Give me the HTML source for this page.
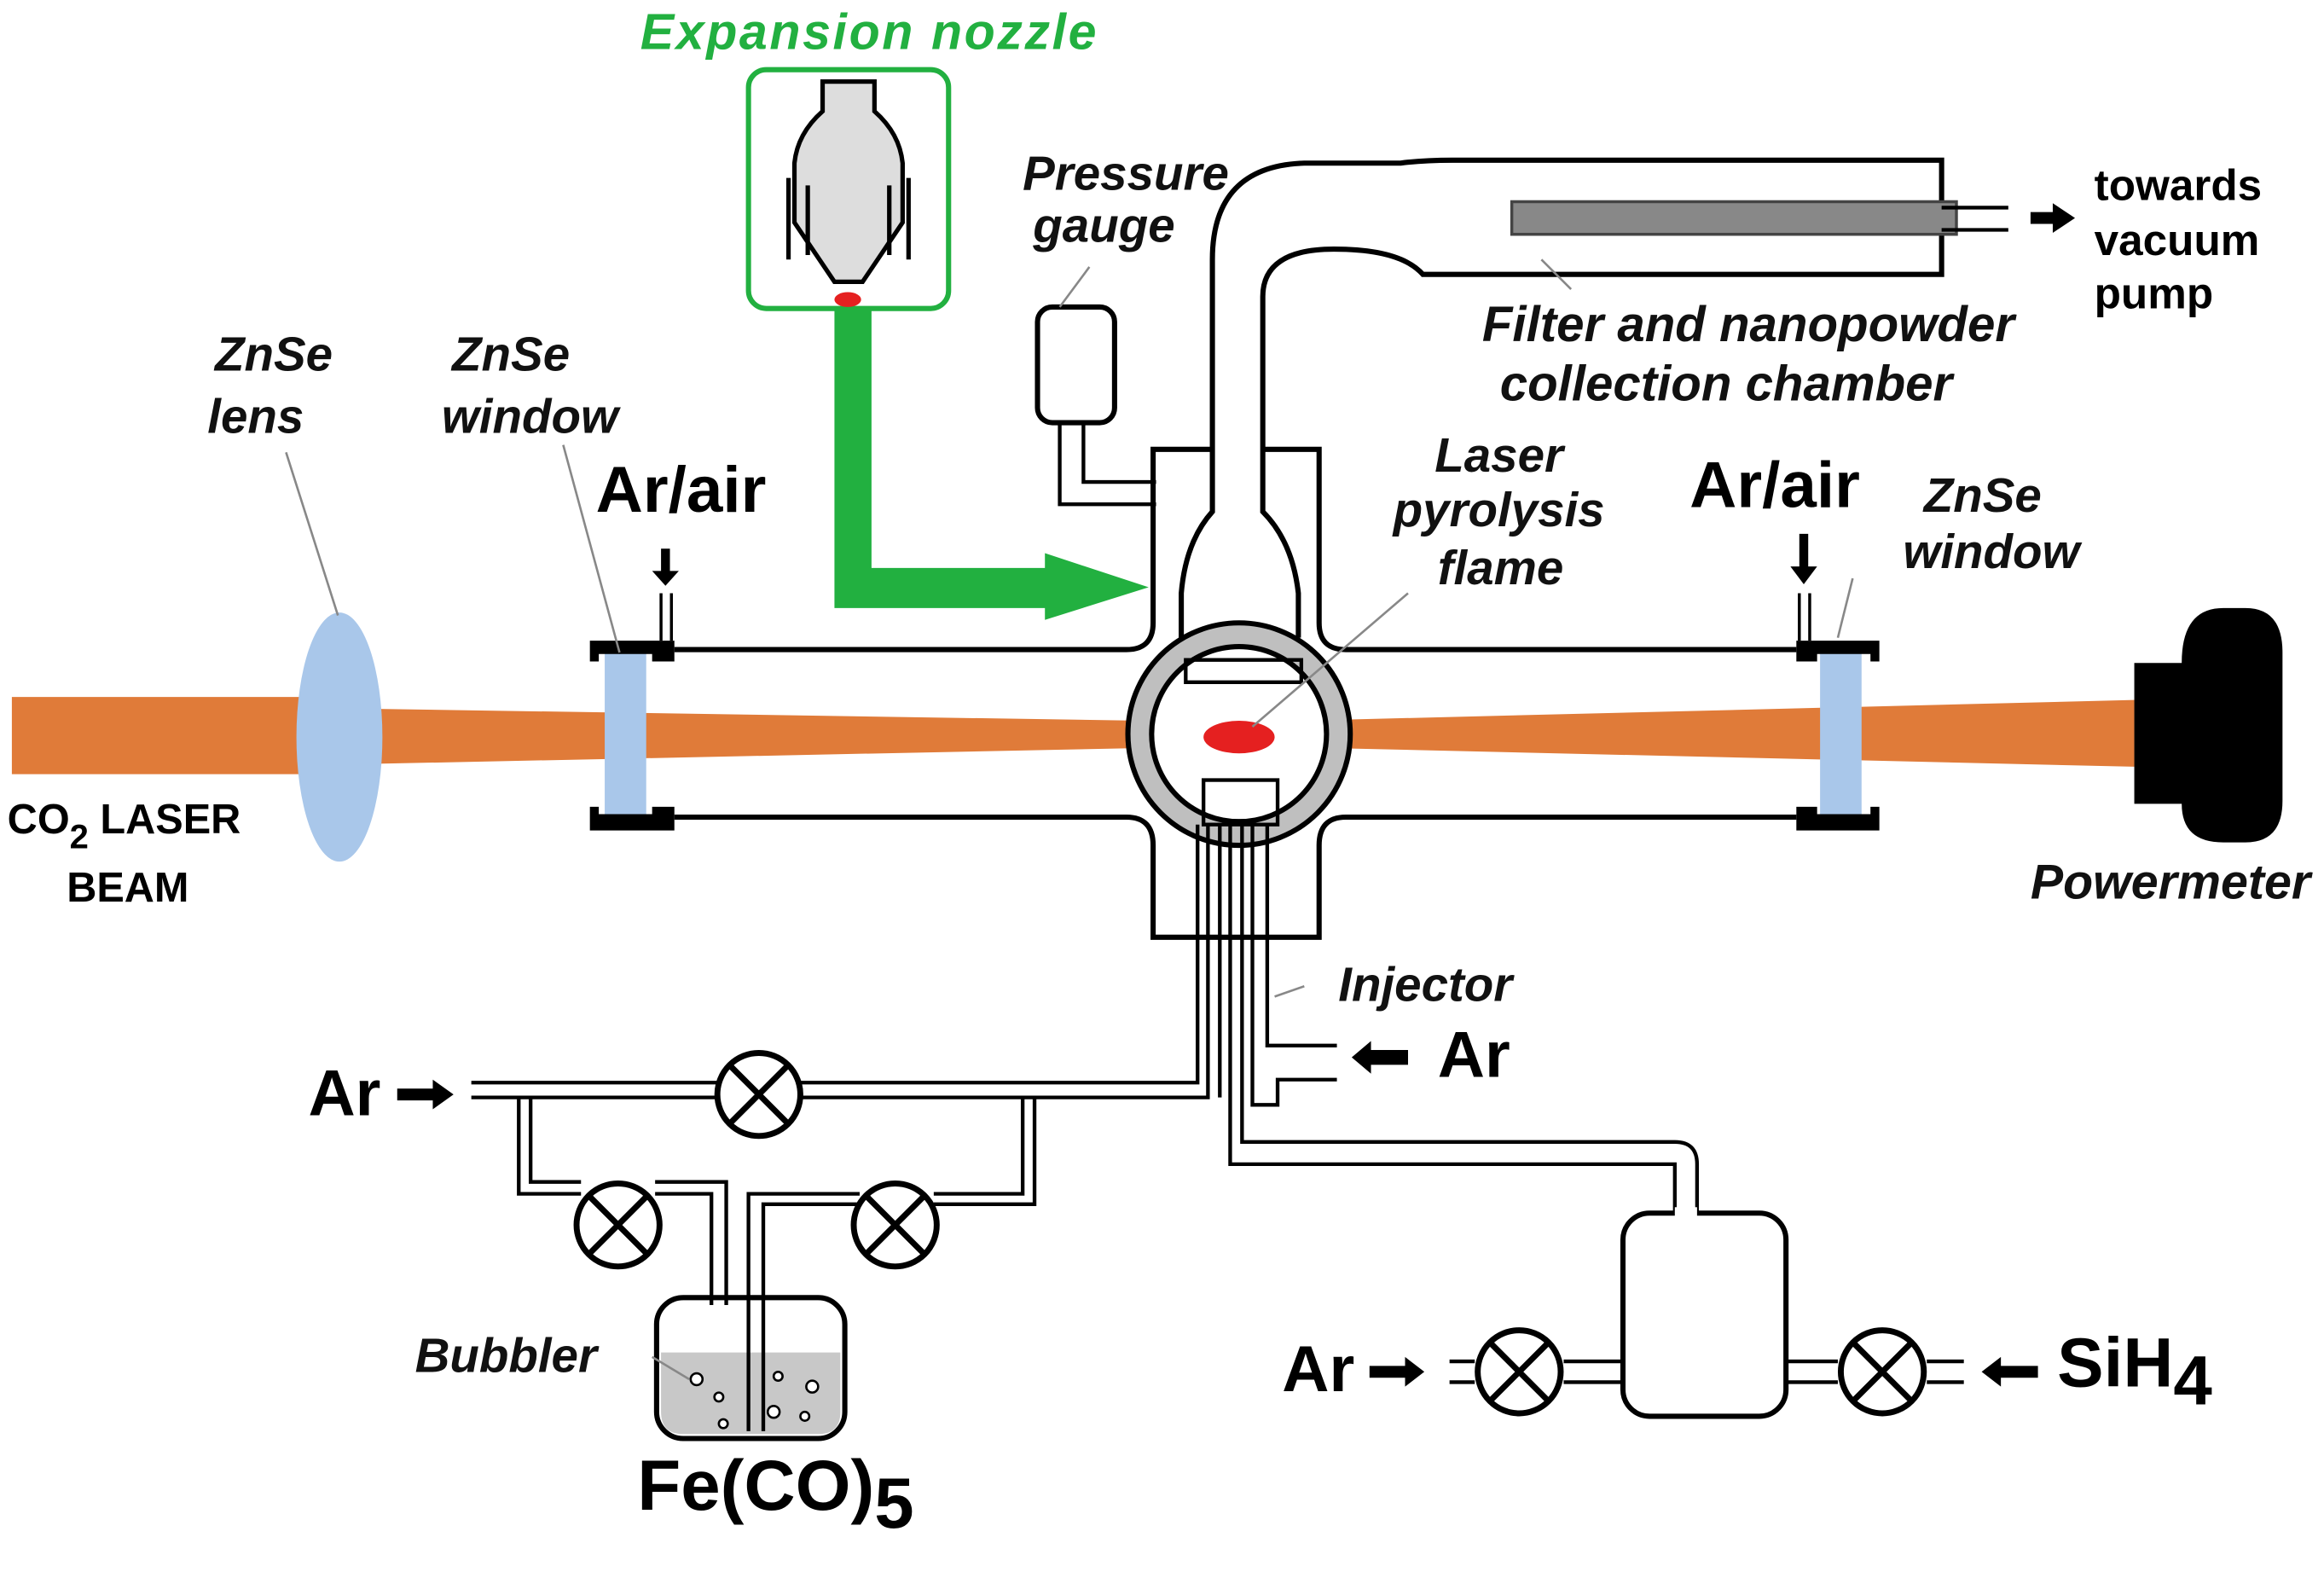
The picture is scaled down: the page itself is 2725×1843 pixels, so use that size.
<!DOCTYPE html>
<html><head><meta charset="utf-8"><style>
html,body{margin:0;padding:0;background:#fff}
svg{display:block}
text{font-family:"Liberation Sans",sans-serif;font-weight:bold}
.it{font-style:italic;font-size:32.5px;fill:#111}
.b{font-size:44px;fill:#000}
</style></head><body>
<svg width="2725" height="1843" viewBox="0 0 1568 1060" preserveAspectRatio="none" xmlns="http://www.w3.org/2000/svg">
<g fill="none" stroke="#000" stroke-width="3.5">
<polygon points="8,470 215,470 255,478 836,487 1440,472 1440,517 836,503 255,515 215,522 8,522" fill="#E07B39" stroke="none"/>
<ellipse cx="229" cy="497" rx="29" ry="84" fill="#a9c7ea" stroke="none"/>
<path d="M455,438 H760 Q778,438 778,420 V303 H890 V420 Q890,438 908,438 H1212"/>
<path d="M455,551 H760 Q778,551 778,570 V632 H890 V570 Q890,551 908,551 H1212"/>
<rect x="408" y="440" width="28" height="114" fill="#a9c7ea" stroke="none"/>
<rect x="1228" y="440" width="28" height="114" fill="#a9c7ea" stroke="none"/>
<path d="M398,432 H455 V446 H440 V441 H404 V446 H398Z" fill="#000" stroke="none"/>
<path d="M398,544 H404 V549 H440 V544 H455 V560 H398Z" fill="#000" stroke="none"/>
<path d="M1212,432 H1268 V446 H1262 V441 H1226 V446 H1212Z" fill="#000" stroke="none"/>
<path d="M1212,544 H1226 V549 H1262 V544 H1268 V560 H1212Z" fill="#000" stroke="none"/>
<path d="M446,400 V432 M453,400 V432 M1214,400 V432 M1221,400 V432" stroke-width="2"/>
<path d="M1440,447 H1472 Q1472,410 1500,410 H1515 Q1540,410 1540,440 V540 Q1540,568 1515,568 H1500 Q1472,568 1472,542 H1440Z" fill="#000" stroke="none"/>
<path d="M797,430 V400 Q800,365 818,345 V175 Q818,112 880,110 H945 Q960,108 980,108 H1310 V185 H960 Q945,168 900,168 Q852,168 852,200 V345 Q872,365 876,400 V430" fill="#fff"/>
<rect x="1020" y="136" width="300" height="22" fill="#888" stroke="#444" stroke-width="2"/>
<path d="M1310,140 H1355 M1310,155 H1355" stroke-width="2.5"/>
<circle cx="836" cy="495" r="72" fill="#fff" stroke="none"/>
<circle cx="836" cy="495" r="67" stroke="#bfbfbf" stroke-width="16"/>
<circle cx="836" cy="495" r="75"/>
<circle cx="836" cy="495" r="59"/>
<path d="M800,445 H878 V460 H800Z" stroke-width="2.5"/>
<ellipse cx="836" cy="497" rx="24" ry="11" fill="#e52020" stroke="none"/>
<rect x="812" y="526" width="50" height="30" stroke-width="2.5"/>
<rect x="700" y="207" width="52" height="78" rx="10"/>
<path d="M715,285 V340 H780 M731,285 V325 H780" stroke-width="2.5"/>
<path d="M808,556 V730 H318 M815,556 V740 H318 M823,556 V740 M830,556 V785 H1130 V818 M838,556 V770 H1130 Q1145,770 1145,785 V818 M845,556 V745 H862 V728 H902 M855,556 V705 H902" stroke-width="2.5"/>
<path d="M350,740 V805 H392 M358,740 V797 H392 M442,805 H480 V880 M442,797 H490 V880 M505,880 V805 H580 M515,880 V812 H580 M630,805 H690 V740 M630,812 H698 V740" stroke-width="2.5"/>
<rect x="443" y="875" width="127" height="95" rx="18" fill="#fff"/>
<path d="M446,912 H567 V952 Q567,967 552,967 H461 Q446,967 446,952Z" fill="#c8c8c8" stroke="none"/>
<path d="M480,875 V880 M490,875 V880 M505,875 V965 M515,875 V965" stroke-width="2.5"/>
<g stroke-width="1.5" fill="#fff"><circle cx="470" cy="930" r="4"/><circle cx="485" cy="942" r="3"/><circle cx="525" cy="928" r="3"/><circle cx="548" cy="935" r="4"/><circle cx="522" cy="952" r="4"/><circle cx="488" cy="960" r="3"/><circle cx="543" cy="955" r="3"/></g>
<rect x="1095" y="818" width="110" height="137" rx="18" fill="#fff"/>
<rect x="1130" y="814" width="15" height="8" fill="#fff" stroke="none"/>
<path d="M978,918 H995 M978,932 H995 M1055,918 H1095 M1055,932 H1095 M1205,918 H1240 M1205,932 H1240 M1300,918 H1325 M1300,932 H1325" stroke-width="2.5"/>
<g fill="#fff" stroke-width="4">
<circle cx="512" cy="738" r="28"/><circle cx="417" cy="826" r="28"/><circle cx="604" cy="826" r="28"/><circle cx="1025" cy="925" r="28"/><circle cx="1270" cy="925" r="28"/>
</g>
<path d="M492,718 L532,758 M532,718 L492,758 M397,806 L437,846 M437,806 L397,846 M584,806 L624,846 M624,806 L584,846 M1005,905 L1045,945 M1045,905 L1005,945 M1250,905 L1290,945 M1290,905 L1250,945" stroke-width="4"/>
<path d="M193,305 L228,415 M380,300 L418,440 M1250,390 L1240,430 M735,180 L715,207 M1040,175 L1060,195 M950,400 L845,490 M880,665 L860,672 M440,915 L465,930" stroke="#888" stroke-width="1.5"/>
</g>
<rect x="505" y="47" width="135" height="161" rx="12" fill="#fff" stroke="#22b040" stroke-width="3.5"/>
<path d="M555,55 V75 Q538,90 536,110 V150 L563,190 H582 L609,150 V110 Q607,90 590,75 V55Z" fill="#ddd" stroke="#000" stroke-width="3"/>
<path d="M532,120 V175 M545,125 V172 M600,125 V172 M613,120 V175" stroke="#000" stroke-width="3"/>
<ellipse cx="572" cy="202" rx="9" ry="5" fill="#e52020"/>
<path d="M563,208 H588 V383 H705 V373 L775,396 L705,418 V410 H563Z" fill="#22b040"/>
<g fill="#000">
<path d="M446,370 V385 H440 L449,395 L458,385 H452 V370Z"/>
<path d="M1214,360 V382 H1208 L1217,394 L1226,382 H1220 V360Z"/>
<path d="M1370,143 H1385 V137 L1400,147 L1385,157 V151 H1370Z"/>
<path d="M268,734 H292 V728 L306,738 L292,748 V742 H268Z"/>
<path d="M925,708 H950 V718 H925 V724 L912,713 L925,702Z"/>
<path d="M924,921 H948 V915 L961,925 L948,935 V929 H924Z"/>
<path d="M1350,921 H1375 V929 H1350 V935 L1337,925 L1350,915Z"/>
</g>
<text x="432" y="33" class="it" style="fill:#22b040;font-size:34px;letter-spacing:1.5px">Expansion nozzle</text>
<text x="690" y="128" class="it">Pressure</text>
<text x="697" y="163" class="it">gauge</text>
<text x="145" y="250" class="it">ZnSe</text>
<text x="140" y="292" class="it">lens</text>
<text x="305" y="250" class="it">ZnSe</text>
<text x="298" y="292" class="it">window</text>
<text x="402" y="345" class="b">Ar/air</text>
<text x="1140" y="342" class="b">Ar/air</text>
<text x="1298" y="345" class="it">ZnSe</text>
<text x="1284" y="383" class="it">window</text>
<text x="968" y="318" class="it">Laser</text>
<text x="940" y="355" class="it">pyrolysis</text>
<text x="970" y="394" class="it">flame</text>
<text x="1000" y="230" class="it" style="font-size:33.5px">Filter and nanopowder</text>
<text x="1012" y="270" class="it" style="font-size:33.5px">collection chamber</text>
<text x="1413" y="135" style="font-size:29.5px">towards</text>
<text x="1413" y="172" style="font-size:29.5px">vacuum</text>
<text x="1413" y="208" style="font-size:29.5px">pump</text>
<text x="5" y="562" style="font-size:28px">CO<tspan dy="10" style="font-size:23px">2</tspan><tspan dy="-10"> LASER</tspan></text>
<text x="45" y="608" style="font-size:28px">BEAM</text>
<text x="1370" y="606" class="it" style="font-size:33px">Powermeter</text>
<text x="903" y="675" class="it">Injector</text>
<text x="970" y="726" class="b">Ar</text>
<text x="208" y="752" class="b">Ar</text>
<text x="280" y="925" class="it">Bubbler</text>
<text x="430" y="1018" class="b" style="font-size:48px">Fe(CO)<tspan dy="12">5</tspan></text>
<text x="865" y="938" class="b">Ar</text>
<text x="1388" y="935" class="b" style="font-size:47px">SiH<tspan dy="12">4</tspan></text>
</svg>
</body></html>
